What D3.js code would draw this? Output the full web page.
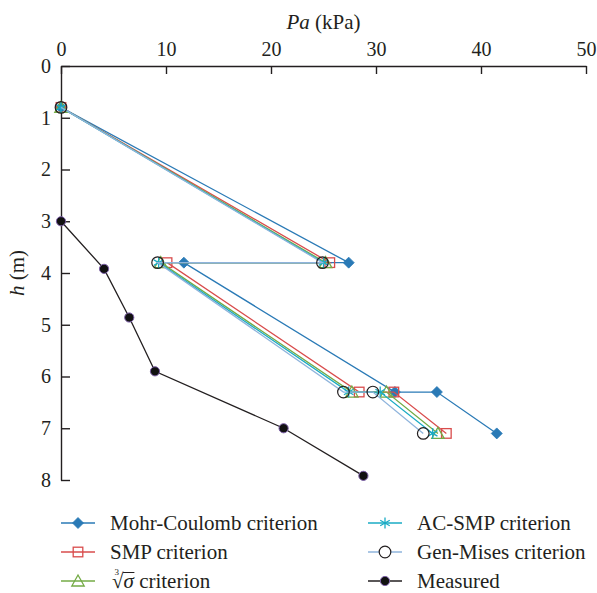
<!DOCTYPE html>
<meta charset="utf-8">
<head>
    <script src="https://d3js.org/d3.v7.min.js"></script>
    <style>
        body { margin: 0; background: #fff; }
        svg, svg text { font-family: "Liberation Serif", "Times New Roman", Tinos, "Noto Serif", "DejaVu Serif", serif !important; }
        text { fill: #231f20; }
        .axis path, .axis line { stroke: #231f20; stroke-width: 1.4; }
        .axis text { font-size: 20px; }
    </style>
</head>
<body>
<div id="my_dataviz"></div>
<script>
    // depth levels shared by the computed series (m)
    var hLevels = [0.8, 3.8, 3.8, 6.3, 6.3, 7.1];

    // active earth pressure Pa (kPa) for each criterion
    var mohrCoulomb = [0, 27.4, 11.7, 31.8, 35.8, 41.5];
    var smp = [0, 25.6, 10.1, 28.4, 31.7, 36.7];
    var cubeRoot = [0, 25.2, 9.5, 27.7, 31.0, 35.9];
    var acSmp = [0, 25.0, 9.3, 27.4, 30.4, 35.4];
    var genMises = [0, 24.9, 9.2, 26.9, 29.7, 34.5];

    // measured values
    var measuredPa = [0, 4.1, 6.5, 8.95, 21.2, 28.8];
    var measuredH = [3.0, 3.92, 4.86, 5.9, 7.0, 7.92];

    var xTicks = [0, 10, 20, 30, 40, 50];
    var yTicks = [0, 1, 2, 3, 4, 5, 6, 7, 8];

    var W = 597, H = 593;
    var svg = d3.select("#my_dataviz").append("svg")
        .attr("width", W)
        .attr("height", H);

    var x = d3.scaleLinear().domain([0, 50]).range([61, 586]);
    var y = d3.scaleLinear().domain([0, 8]).range([66, 480]);

    // axes: x on top with ticks pointing down, y on the left with ticks pointing right
    svg.append("g")
        .attr("class", "axis")
        .attr("transform", "translate(0," + y(0) + ")")
        .call(d3.axisTop(x).tickValues(xTicks).tickSizeInner(-8).tickSizeOuter(0).tickPadding(10));

    svg.append("g")
        .attr("class", "axis")
        .attr("transform", "translate(" + x(0) + ",0)")
        .call(d3.axisLeft(y).tickValues(yTicks).tickSizeInner(-9).tickSizeOuter(0).tickPadding(10));

    svg.selectAll(".axis").attr("font-family", null);
    svg.selectAll(".axis .domain").attr("fill", "none");

    // axis titles
    var xt = svg.append("text")
        .attr("x", (x(0) + x(50)) / 2)
        .attr("y", 29)
        .attr("text-anchor", "middle")
        .style("font-size", "21px");
    xt.append("tspan").style("font-style", "italic").text("Pa");
    xt.append("tspan").text(" (kPa)");

    var yt = svg.append("text")
        .attr("transform", "translate(24," + (y(0) + y(8)) / 2 + ") rotate(-90)")
        .attr("text-anchor", "middle")
        .style("font-size", "21px");
    yt.append("tspan").style("font-style", "italic").text("h");
    yt.append("tspan").text(" (m)");

    // marker shapes
    function drawMarker(g, type, color) {
        if (type === "diamond") {
            g.append("path").attr("d", "M0,-5.5L5.5,0L0,5.5L-5.5,0Z")
                .attr("fill", color).attr("stroke", color).attr("stroke-width", 0.8);
        } else if (type === "square") {
            g.append("rect").attr("x", -4.8).attr("y", -4.8).attr("width", 9.6).attr("height", 9.6)
                .attr("fill", "none").attr("stroke", color).attr("stroke-width", 1.3);
        } else if (type === "triangle") {
            g.append("path").attr("d", "M0,-6L6.2,5L-6.2,5Z")
                .attr("fill", "none").attr("stroke", color).attr("stroke-width", 1.3);
        } else if (type === "asterisk") {
            var r = 5.5, a = r * Math.cos(Math.PI / 6), b = r * 0.5;
            g.append("path")
                .attr("d", "M0,-" + r + "L0," + r + "M-" + a + ",-" + b + "L" + a + "," + b + "M-" + a + "," + b + "L" + a + ",-" + b)
                .attr("fill", "none").attr("stroke", color).attr("stroke-width", 1.3);
        } else if (type === "circle") {
            g.append("circle").attr("r", 5.8)
                .attr("fill", "none").attr("stroke", "#231f20").attr("stroke-width", 1.2);
        } else if (type === "dot") {
            g.append("circle").attr("r", 4.6)
                .attr("fill", "#111").attr("stroke", "#7b5ea7").attr("stroke-width", 1);
        }
    }

    var series = [
        { name: "Mohr-Coulomb criterion", pa: mohrCoulomb, h: hLevels, color: "#2a7ab6", marker: "diamond" },
        { name: "SMP criterion", pa: smp, h: hLevels, color: "#d94c4c", marker: "square" },
        { name: "cube", pa: cubeRoot, h: hLevels, color: "#74ab46", marker: "triangle" },
        { name: "AC-SMP criterion", pa: acSmp, h: hLevels, color: "#1aabc4", marker: "asterisk" },
        { name: "Gen-Mises criterion", pa: genMises, h: hLevels, color: "#8fb4dc", marker: "circle" },
        { name: "Measured", pa: measuredPa, h: measuredH, color: "#231f20", marker: "dot" }
    ];

    var line = d3.line()
        .x(function (d) { return x(d[0]); })
        .y(function (d) { return y(d[1]); });

    series.forEach(function (s) {
        var pts = s.pa.map(function (v, i) { return [v, s.h[i]]; });
        svg.append("path")
            .attr("d", line(pts))
            .attr("fill", "none")
            .attr("stroke", s.color)
            .attr("stroke-width", 1.3);
        pts.forEach(function (p) {
            var g = svg.append("g").attr("transform", "translate(" + x(p[0]) + "," + y(p[1]) + ")");
            drawMarker(g, s.marker, s.color);
        });
    });

    // legend
    var legendCols = [61, 368];
    var legendRows = [523, 552, 581];
    series.forEach(function (s, i) {
        var lx = legendCols[Math.floor(i / 3)];
        var ly = legendRows[i % 3];
        var g = svg.append("g").attr("transform", "translate(" + lx + "," + ly + ")");
        g.append("line").attr("x1", 0).attr("x2", 34).attr("y1", 0).attr("y2", 0)
            .attr("stroke", s.color).attr("stroke-width", 1.3);
        var mg = g.append("g").attr("transform", "translate(17,0)");
        drawMarker(mg, s.marker, s.color);
        if (s.marker === "circle") mg.select("circle").attr("fill", "#fff");

        var t = g.append("text").attr("x", 49).attr("y", 7).style("font-size", "21px");
        if (s.name === "cube") {
            // cube root of sigma, index written as a small raised tspan
            t.append("tspan").style("font-size", "9px").attr("dx", 2).attr("dy", -13).text("3");
            t.append("tspan").attr("dx", -7).attr("dy", 13).text("\u221A");
            t.append("tspan").style("font-style", "italic").text("\u03C3");
            t.append("tspan").text(" criterion");
            var node = t.node();
            var x0 = node.getStartPositionOfChar(2).x;
            var x1 = node.getEndPositionOfChar(2).x;
            g.append("line").attr("x1", x0 - 0.5).attr("x2", x1 + 0.5).attr("y1", -8.5).attr("y2", -8.5)
                .attr("stroke", "#231f20").attr("stroke-width", 1);
        } else {
            t.text(s.name);
        }
    });
</script>
</body>
